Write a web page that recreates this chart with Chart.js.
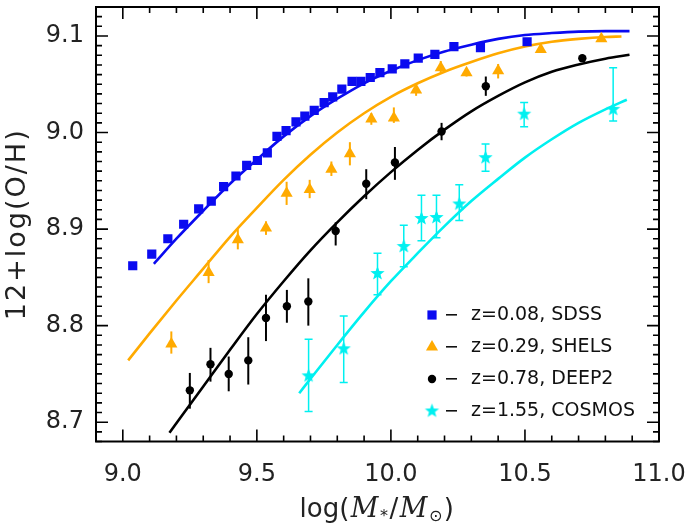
<!DOCTYPE html>
<html>
<head>
<meta charset="utf-8">
<script src="https://cdn.jsdelivr.net/npm/chart.js@4.4.0/dist/chart.umd.min.js"></script>
<style>
  html, body { margin: 0; padding: 0; background: #fff; }
</style>
</head>
<body>
<canvas id="c" width="685" height="527"></canvas>
<script>
//--- Data
var sdssX = [9.037, 9.108, 9.168, 9.227, 9.283, 9.330, 9.376, 9.422, 9.462, 9.502, 9.539, 9.575, 9.609, 9.646, 9.679,
             9.714, 9.751, 9.783, 9.817, 9.855, 9.888, 9.923, 9.959, 10.005, 10.052, 10.102, 10.164, 10.235, 10.334, 10.508];
var sdssY = [8.862, 8.874, 8.890, 8.905, 8.921, 8.929, 8.944, 8.955, 8.966, 8.971, 8.979, 8.996, 9.002, 9.011, 9.017,
             9.023, 9.031, 9.037, 9.045, 9.053, 9.053, 9.057, 9.062, 9.066, 9.071, 9.077, 9.081, 9.089, 9.088, 9.094];

var shelsX  = [9.181, 9.320, 9.429, 9.534, 9.611, 9.697, 9.778, 9.847, 9.927, 10.011, 10.094, 10.186, 10.282, 10.400, 10.559, 10.785];
var shelsY  = [8.781, 8.855, 8.889, 8.901, 8.937, 8.941, 8.962, 8.978, 9.014, 9.015, 9.044, 9.067, 9.062, 9.064, 9.086, 9.097];
var shelsLo = [8.771, 8.844, 8.879, 8.894, 8.925, 8.932, 8.955, 8.966, 9.008, 9.010, 9.038, 9.062, 9.058, 9.056, 9.083, 9.095];
var shelsHi = [8.794, 8.868, 8.900, 8.908, 8.949, 8.951, 8.970, 8.990, 9.020, 9.026, 9.050, 9.074, 9.066, 9.071, 9.089, 9.100];

var deep2X  = [9.250, 9.327, 9.395, 9.468, 9.534, 9.612, 9.692, 9.794, 9.908, 10.015, 10.189, 10.354, 10.714];
var deep2Y  = [8.733, 8.760, 8.750, 8.764, 8.808, 8.820, 8.825, 8.898, 8.947, 8.969, 9.001, 9.048, 9.077];
var deep2Lo = [8.714, 8.742, 8.732, 8.739, 8.784, 8.803, 8.800, 8.883, 8.931, 8.951, 8.992, 9.038, 9.073];
var deep2Hi = [8.751, 8.777, 8.768, 8.788, 8.832, 8.837, 8.849, 8.907, 8.962, 8.985, 9.010, 9.058, 9.080];

var cosmosX  = [9.693, 9.824, 9.950, 10.048, 10.114, 10.170, 10.255, 10.353, 10.497, 10.829];
var cosmosY  = [8.748, 8.776, 8.854, 8.882, 8.911, 8.912, 8.926, 8.974, 9.019, 9.024];
var cosmosLo = [8.711, 8.741, 8.832, 8.861, 8.888, 8.891, 8.909, 8.960, 9.006, 9.012];
var cosmosHi = [8.786, 8.810, 8.875, 8.904, 8.935, 8.935, 8.946, 8.988, 9.031, 9.067];

//--- fitted curves
var sdssFitX = [9.116, 9.2, 9.3, 9.4, 9.5, 9.6, 9.7, 9.8, 9.9, 10.0, 10.1, 10.2, 10.3, 10.4, 10.5, 10.6, 10.7, 10.8, 10.89];
var sdssFitY = [8.864, 8.890, 8.919, 8.947, 8.972, 8.996, 9.017, 9.035, 9.051, 9.064, 9.075, 9.084, 9.091, 9.097, 9.101, 9.103, 9.1045, 9.105, 9.105];
var shelsFitX = [9.02, 9.1, 9.2, 9.3, 9.4, 9.5, 9.6, 9.7, 9.8, 9.9, 10.0, 10.1, 10.2, 10.3, 10.4, 10.5, 10.6, 10.7, 10.8, 10.86];
var shelsFitY = [8.764, 8.792, 8.826, 8.859, 8.892, 8.922, 8.951, 8.977, 9.000, 9.020, 9.037, 9.051, 9.063, 9.073, 9.082, 9.089, 9.094, 9.097, 9.099, 9.0995];
var deep2FitX = [9.174, 9.3, 9.4, 9.5, 9.6, 9.7, 9.8, 9.9, 10.0, 10.1, 10.2, 10.3, 10.4, 10.5, 10.6, 10.7, 10.8, 10.89];
var deep2FitY = [8.689, 8.737, 8.775, 8.812, 8.846, 8.878, 8.907, 8.934, 8.959, 8.982, 9.003, 9.022, 9.038, 9.052, 9.063, 9.0705, 9.0765, 9.0805];
var cosmosFitX = [9.658, 9.7, 9.8, 9.9, 10.0, 10.1, 10.2, 10.3, 10.4, 10.5, 10.6, 10.7, 10.8, 10.88];
var cosmosFitY = [8.730, 8.745, 8.780, 8.814, 8.846, 8.875, 8.903, 8.929, 8.952, 8.974, 8.993, 9.010, 9.024, 9.034];

var labels = ['z=0.08, SDSS', 'z=0.29, SHELS', 'z=0.78, DEEP2', 'z=1.55, COSMOS'];
var xTicks = [9.0, 9.5, 10.0, 10.5, 11.0];
var yTicks = [8.7, 8.8, 8.9, 9.0, 9.1];

var BLUE = '#0a0af0', ORANGE = '#ffaa00', BLACK = '#000000', CYAN = '#00f0f0';
var FONT = '"DejaVu Sans", sans-serif';

function pts(xs, ys) {
    var out = [];
    for (var i = 0; i < xs.length; i++) out.push({ x: xs[i], y: ys[i] });
    return out;
}

// filled five point star, the library has only a stroked one
function makeStar(color, r) {
    var c = document.createElement('canvas');
    var s = Math.ceil(r * 2 + 2);
    c.width = s; c.height = s;
    var g = c.getContext('2d');
    g.fillStyle = color;
    g.beginPath();
    for (var i = 0; i < 10; i++) {
        var rr = i % 2 === 0 ? r : r * 0.42;
        var a = -Math.PI / 2 + i * Math.PI / 5;
        g.lineTo(s / 2 + rr * Math.cos(a), s / 2 + rr * Math.sin(a));
    }
    g.closePath();
    g.fill();
    return c;
}
var star = makeStar(CYAN, 7.5);

function fitLine(xs, ys, color) {
    return {
        type: 'line', data: pts(xs, ys), borderColor: color, borderWidth: 2.6,
        pointRadius: 0, fill: false, cubicInterpolationMode: 'monotone', order: 5
    };
}

var datasets = [
    { label: labels[0], data: pts(sdssX, sdssY), pointStyle: 'rect', pointRadius: 6.5,
      backgroundColor: BLUE, borderColor: BLUE, borderWidth: 0, order: 1 },
    { label: labels[1], data: pts(shelsX, shelsY), pointStyle: 'triangle', pointRadius: 7,
      backgroundColor: ORANGE, borderColor: ORANGE, borderWidth: 0, errLo: shelsLo, errHi: shelsHi, order: 1 },
    { label: labels[2], data: pts(deep2X, deep2Y), pointStyle: 'circle', pointRadius: 4.2,
      backgroundColor: BLACK, borderColor: BLACK, borderWidth: 0, errLo: deep2Lo, errHi: deep2Hi, order: 1 },
    { label: labels[3], data: pts(cosmosX, cosmosY), pointStyle: star, pointRadius: 7,
      backgroundColor: CYAN, borderColor: CYAN, borderWidth: 0, errLo: cosmosLo, errHi: cosmosHi, cap: 4, order: 1 },
    fitLine(sdssFitX, sdssFitY, BLUE),
    fitLine(shelsFitX, shelsFitY, ORANGE),
    fitLine(deep2FitX, deep2FitY, BLACK),
    fitLine(cosmosFitX, cosmosFitY, CYAN)
];

//--- error bars under the markers
var errorBars = {
    id: 'errorBars',
    beforeDatasetsDraw: function (chart) {
        var ctx = chart.ctx, xs = chart.scales.x, ys = chart.scales.y;
        ctx.save();
        chart.data.datasets.forEach(function (ds) {
            if (!ds.errLo) return;
            ctx.strokeStyle = ds.borderColor;
            ctx.lineWidth = ds.cap ? 1.5 : 2;
            ds.data.forEach(function (p, i) {
                var px = xs.getPixelForValue(p.x);
                var y1 = ys.getPixelForValue(ds.errLo[i]), y2 = ys.getPixelForValue(ds.errHi[i]);
                ctx.beginPath();
                ctx.moveTo(px, y1); ctx.lineTo(px, y2);
                if (ds.cap) {
                    ctx.moveTo(px - ds.cap, y1); ctx.lineTo(px + ds.cap, y1);
                    ctx.moveTo(px - ds.cap, y2); ctx.lineTo(px + ds.cap, y2);
                }
                ctx.stroke();
            });
        });
        ctx.restore();
    }
};

//--- frame, inward ticks, titles and legend
var frame = {
    id: 'frame',
    afterDraw: function (chart) {
        var ctx = chart.ctx, a = chart.chartArea, xs = chart.scales.x, ys = chart.scales.y;
        ctx.save();
        ctx.strokeStyle = '#000';
        ctx.lineWidth = 1.6;
        ctx.beginPath();
        var v, p, len;
        for (v = 90; v <= 110; v++) {
            p = xs.getPixelForValue(v / 10);
            len = v % 5 === 0 ? 12 : 6;
            ctx.moveTo(p, a.bottom); ctx.lineTo(p, a.bottom - len);
            ctx.moveTo(p, a.top); ctx.lineTo(p, a.top + len);
        }
        for (v = 868; v <= 913; v++) {
            p = ys.getPixelForValue(v / 100);
            len = v % 10 === 0 ? 12 : 6;
            ctx.moveTo(a.left, p); ctx.lineTo(a.left + len, p);
            ctx.moveTo(a.right, p); ctx.lineTo(a.right - len, p);
        }
        ctx.stroke();
        ctx.lineWidth = 2;
        ctx.strokeRect(a.left, a.top, a.right - a.left, a.bottom - a.top);

        // y title
        ctx.fillStyle = '#222';
        ctx.font = '27px ' + FONT;
        ctx.textAlign = 'center';
        ctx.textBaseline = 'middle';
        ctx.save();
        ctx.translate(18, (a.top + a.bottom) / 2);
        ctx.rotate(-Math.PI / 2);
        ctx.letterSpacing = '2px';
        ctx.fillText('12+log(O/H)', 0, 0);
        ctx.restore();

        // x title: log(M*/M⊙)
        var parts = [
            { t: 'log(', f: '26px ' + FONT, dy: 0 },
            { t: 'M', f: 'italic 27px "DejaVu Serif", serif', dy: 0 },
            { t: '*', f: '16px ' + FONT, dy: 7 },
            { t: '/', f: '26px ' + FONT, dy: 0 },
            { t: 'M', f: 'italic 27px "DejaVu Serif", serif', dy: 0 },
            { t: '\u2299', f: '16px ' + FONT, dy: 7 },
            { t: ')', f: '26px ' + FONT, dy: 0 }
        ];
        var total = 0;
        parts.forEach(function (q) { ctx.font = q.f; q.w = ctx.measureText(q.t).width + 1.5; total += q.w; });
        var cx = (a.left + a.right) / 2 - total / 2, ty = 510;
        ctx.textAlign = 'left';
        ctx.textBaseline = 'middle';
        parts.forEach(function (q) {
            ctx.font = q.f;
            ctx.fillText(q.t, cx, ty + q.dy);
            cx += q.w;
        });

        // legend
        ctx.font = '19px ' + FONT;
        ctx.textBaseline = 'middle';
        chart.data.datasets.slice(0, 4).forEach(function (ds, i) {
            var ly = 315 + i * 32;
            ctx.fillStyle = ds.backgroundColor;
            ctx.strokeStyle = ds.backgroundColor;
            Chart.helpers.drawPoint(ctx, { pointStyle: ds.pointStyle, radius: ds.pointRadius, borderWidth: 0 }, 432, ly);
            ctx.fillStyle = '#111';
            ctx.fillRect(446, ly - 1, 11, 1.6);
            ctx.fillText(ds.label, 471, ly);
        });
        ctx.restore();
    }
};

var chart = new Chart(document.getElementById('c'), {
    type: 'scatter',
    data: { datasets: datasets },
    options: {
        responsive: false,
        animation: false,
        layout: { padding: { left: 0, right: 26, top: 1, bottom: 0 } },
        plugins: { legend: { display: false }, tooltip: { enabled: false } },
        scales: {
            x: {
                type: 'linear', min: 8.9, max: 11.0,
                grid: { display: false, drawTicks: false },
                border: { display: false },
                afterFit: function (s) { s.height = 85.5; s.paddingLeft = 0; s.paddingRight = 0; },
                afterBuildTicks: function (s) { s.ticks = xTicks.map(function (v) { return { value: v }; }); },
                ticks: {
                    padding: 19, color: '#222', maxRotation: 0, autoSkip: false,
                    font: { family: FONT, size: 24 },
                    callback: function (v) { return Number(v).toFixed(1); }
                }
            },
            y: {
                type: 'linear', min: 8.68, max: 9.13,
                grid: { display: false, drawTicks: false },
                border: { display: false },
                afterFit: function (s) { s.width = 96; s.paddingTop = 0; s.paddingBottom = 0; },
                afterBuildTicks: function (s) { s.ticks = yTicks.map(function (v) { return { value: v }; }); },
                ticks: {
                    padding: 12, color: '#222', autoSkip: false,
                    font: { family: FONT, size: 24 },
                    callback: function (v) { return Number(v).toFixed(1); }
                }
            }
        }
    },
    plugins: [errorBars, frame]
});
</script>
</body>
</html>
